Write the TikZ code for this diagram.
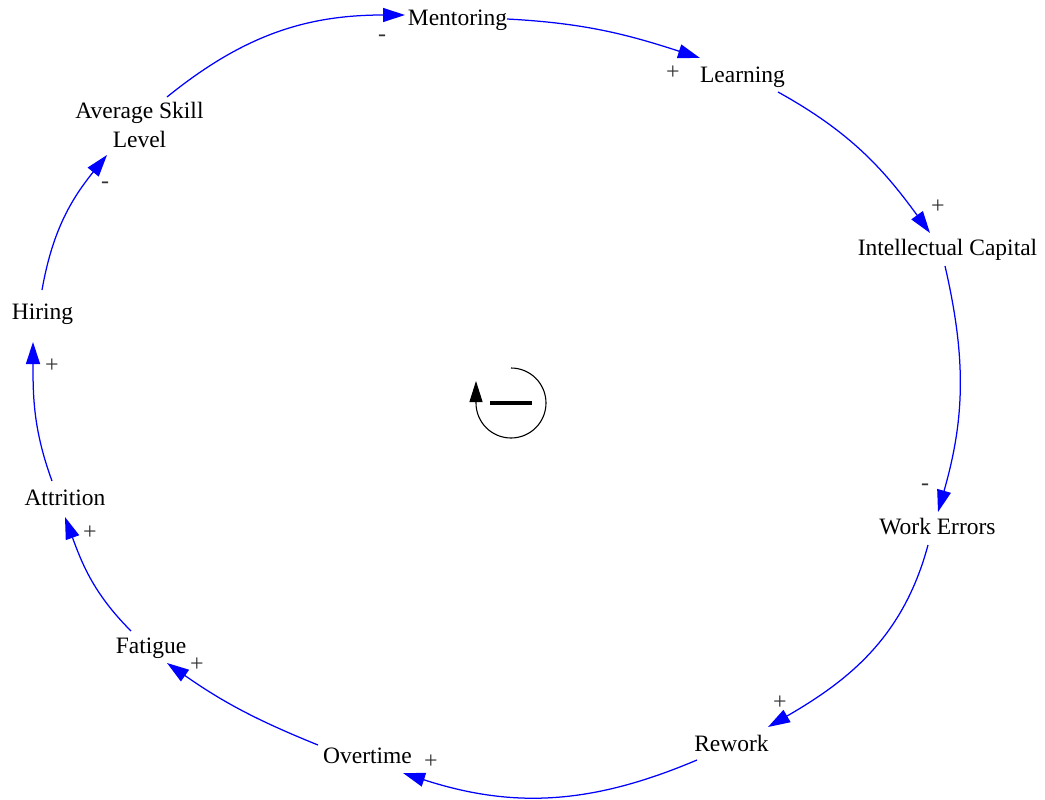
\documentclass[tikz,border=0pt]{standalone}
\usepackage{fontspec}
\setmainfont{Liberation Serif}
\usetikzlibrary{arrows.meta,calc}
\definecolor{linkblue}{RGB}{0,0,255}
\begin{document}
\begin{tikzpicture}[x=1pt,y=-1pt,
  var/.style={font=\fontsize{23.5}{28.2}\selectfont, inner sep=0pt, anchor=base},
  sign/.style={font=\fontsize{24}{28.8}\selectfont, text=black!80, inner sep=0pt},
  link/.style={draw=linkblue, line width=1.25pt, -{Triangle[length=22pt,width=14pt]}},
]
\useasboundingbox (0,0) rectangle (1045,800);

% variables of the loop
\node[var] (ment)  at (457.5,26)  {Mentoring};
\node[var] (learn) at (742.5,82)  {Learning};
\node[var] (ic)    at (947.5,255) {Intellectual Capital};
\node[var] (we)    at (937.5,534) {Work Errors};
\node[var] (rew)   at (731.5,751) {Rework};
\node[var] (over)  at (367.5,763) {Overtime};
\node[var] (fat)   at (151,653)   {Fatigue};
\node[var] (attr)  at (65,505)    {Attrition};
\node[var] (hire)  at (42.5,319)  {Hiring};
\node[var, anchor=center, align=center] (asl) at (139.5,125) {Average Skill\\Level};

% causal links
\draw[link] ($(asl)+(27.5,-28)$)        to[out=39,in=180]      ($(ment.base)+(-52.5,-11)$);
\draw[link] ($(ment.base)+(49.5,-7)$)   to[out=-3,in=162]      ($(learn.base)+(-42.5,-24)$);
\draw[link] ($(learn.base)+(35.5,10)$)  to[out=-29,in=126]     ($(ic.base)+(-17.5,-22)$);
\draw[link] ($(ic.base)+(-2.5,11)$)     to[out=-77,in=74]      ($(we.base)+(0.5,-22)$);
\draw[link] ($(we.base)+(-9.5,11)$)     to[out=-105,in=30]     ($(rew.base)+(36.5,-24)$);
\draw[link] ($(rew.base)+(-34.5,9)$)    to[out=-157,in=-18]    ($(over.base)+(35.5,10)$);
\draw[link] ($(over.base)+(-49.5,-18)$) to[out=158,in=-35]     ($(fat.base)+(16,10)$);
\draw[link] ($(fat.base)+(-20,-22)$)    to[out=135,in=-70]     ($(attr.base)+(0,12)$);
\draw[link] ($(attr.base)+(-13,-24)$)   to[out=110,in=-90]     ($(hire.base)+(-9.5,23)$);
\draw[link] ($(hire.base)+(-0.5,-29)$)  to[out=80,in=231]      ($(asl)+(-32.5,30)$);

% link polarities
\node[sign] (p1)  at (382,38)  {-};
\node[sign] (p2)  at (673,73)  {+};
\node[sign] (p3)  at (938,207) {+};
\node[sign] (p4)  at (925,487) {-};
\node[sign] (p5)  at (780,703) {+};
\node[sign] (p6)  at (431,762) {+};
\node[sign] (p7)  at (197,665) {+};
\node[sign] (p8)  at (90,533)  {+};
\node[sign] (p9)  at (52,366)  {+};
\node[sign] (p10) at (105,185) {-};

% balancing loop marker
\coordinate (loopc) at (511,403);
\draw[line width=1.1pt, -{Triangle[length=21pt,width=13pt]}]
  ($(loopc)+(0,-35)$) arc[start angle=90,end angle=-180,radius=35pt] -- ++(0,-22);
\draw[line width=3.5pt] ($(loopc)+(-21,0)$) -- ($(loopc)+(21,0)$);
\end{tikzpicture}
\end{document}
